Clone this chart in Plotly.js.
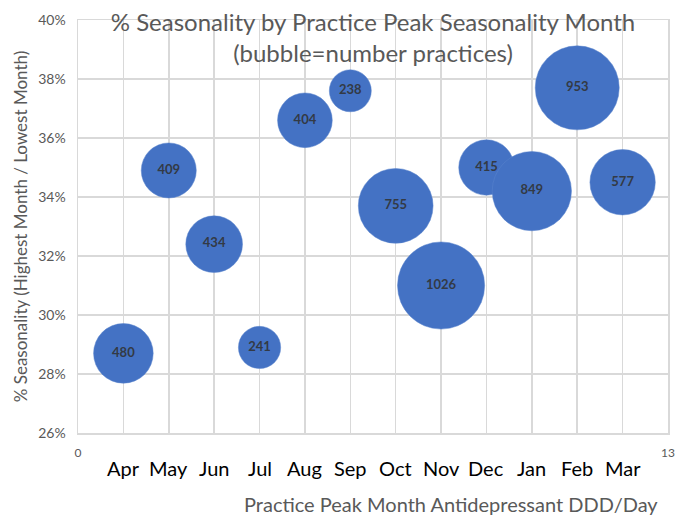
<!DOCTYPE html>
<html>
<head>
<meta charset="utf-8">
<script src="https://cdn.plot.ly/plotly-3.0.1.min.js"></script>
<style>html,body{margin:0;padding:0;background:#fff;}</style>
</head>
<body>
<div id="chart" style="width:678px;height:515px;"></div>
<script>
const months = ['Apr','May','Jun','Jul','Aug','Sep','Oct','Nov','Dec','Jan','Feb','Mar'];
const monthPos = [1,2,3,4,5,6,7,8,9,10,11,12];
const seasonality = [0.287,0.349,0.324,0.289,0.366,0.376,0.337,0.310,0.350,0.342,0.377,0.345];
const practices = [480,409,434,241,404,238,755,1026,415,849,953,577];
const yTicks = [0.26,0.28,0.30,0.32,0.34,0.36,0.38,0.40];
const xTickVals = [0,1,2,3,4,5,6,7,8,9,10,11,12,13];
const xTickText = ['0','','','','','','','','','','','','','13'];

const FONT = 'Lato, "Open Sans", sans-serif';
const GRID = '#d9d9d9';

const trace = {
  type: 'scatter',
  mode: 'markers+text',
  x: monthPos,
  y: seasonality,
  text: practices.map(String),
  textposition: 'middle center',
  textfont: {family: FONT, size: 13, color: '#333a45', weight: 'bold'},
  marker: {
    size: practices,
    sizemode: 'area',
    sizeref: 0.27,
    color: '#4472c4',
    opacity: 1,
    line: {width: 0.5, color: '#5b84cc'}
  },
  hoverinfo: 'skip',
  cliponaxis: false
};

const annotations = months.map((m, i) => ({
  x: monthPos[i], xref: 'x', y: -0.085, yref: 'paper',
  text: m, showarrow: false, yanchor: 'middle', xanchor: 'center',
  font: {family: FONT, size: 20, color: '#000'}
}));
annotations.push({
  x: 0.632, xref: 'paper', y: -0.172, yref: 'paper',
  text: 'Practice Peak Month Antidepressant DDD/Day', showarrow: false,
  xanchor: 'center', yanchor: 'middle',
  font: {family: FONT, size: 20, color: '#595959'}
});

const layout = {
  width: 678, height: 515,
  margin: {l: 78, r: 10, t: 20, b: 82},
  paper_bgcolor: '#fff', plot_bgcolor: '#fff',
  showlegend: false,
  title: {
    text: '% Seasonality by Practice Peak Seasonality Month<br>(bubble=number practices)',
    font: {family: FONT, size: 24, color: '#595959'},
    xref: 'paper', x: 0.5, xanchor: 'center', yref: 'container', y: 0.94, yanchor: 'top'
  },
  xaxis: {
    range: [0, 13], tickvals: xTickVals, ticktext: xTickText,
    showgrid: true, gridcolor: GRID, gridwidth: 1.5,
    zeroline: false, showline: true, linecolor: GRID, linewidth: 1.5, mirror: true,
    ticks: '', ticklabelstandoff: 8,
    tickfont: {family: FONT, size: 12, color: '#595959'},
    fixedrange: true
  },
  yaxis: {
    range: [0.26, 0.40], tickvals: yTicks, tickformat: '.0%',
    showgrid: true, gridcolor: GRID, gridwidth: 1.5,
    zeroline: false, showline: true, linecolor: GRID, linewidth: 1.5, mirror: true,
    ticks: '', ticklabelstandoff: 8,
    tickfont: {family: FONT, size: 14, color: '#595959'},
    title: {text: '% Seasonality (Highest Month / Lowest Month)', font: {family: FONT, size: 17, color: '#595959'}, standoff: 6},
    fixedrange: true
  },
  annotations: annotations
};

Plotly.newPlot('chart', [trace], layout, {displayModeBar: false, staticPlot: true});
</script>
</body>
</html>
